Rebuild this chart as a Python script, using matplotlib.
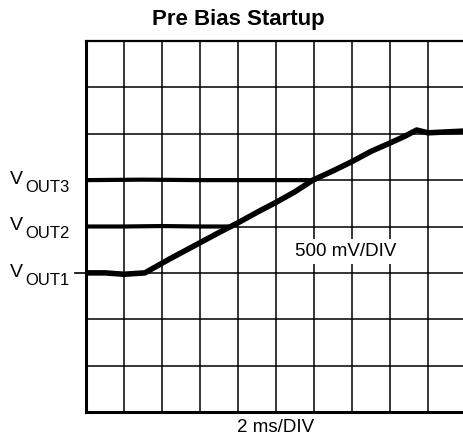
import matplotlib
matplotlib.use("Agg")
import matplotlib.pyplot as plt
import matplotlib.transforms as transforms

plt.rcParams["font.family"] = ["Liberation Sans", "DejaVu Sans"]

# scope traces, in divisions (x: 2 ms/div, y: 500 mV/div)
ramp_t = [0.0, 0.5, 1.0, 1.55, 2.2, 3.0, 3.5, 4.0, 4.6, 5.0, 5.5, 5.97, 6.5, 7.0, 7.5, 8.0, 8.4, 8.7, 9.0, 9.5, 10.0]
ramp_v = [3.0, 3.0, 2.97, 3.0, 3.3, 3.65, 3.87, 4.08, 4.35, 4.52, 4.75, 5.0, 5.2, 5.4, 5.62, 5.8, 5.95, 6.08, 6.02, 6.04, 6.06]

vout2_t = [0.0, 1.0, 2.0, 3.0, 3.85]
vout2_v = [4.0, 4.0, 4.01, 4.0, 4.0]

vout3_t = [0.0, 1.5, 3.0, 4.5, 5.95]
vout3_v = [5.0, 5.01, 5.0, 5.0, 5.0]

levels = [3.0, 4.0, 5.0]
level_subs = ["OUT1", "OUT2", "OUT3"]

fig = plt.figure(figsize=(4.64, 4.47), dpi=100)
ax = fig.add_axes([86 / 464, 35 / 447, 380 / 464, 371 / 447])

ax.set_xlim(0, 10)
ax.set_ylim(0, 8)
ax.set_xticks(range(11))
ax.set_yticks(range(9))
ax.grid(True, color="black", linewidth=1.1)
ax.tick_params(length=0, labelbottom=False, labelleft=False)
for side in ["left", "bottom"]:
    ax.spines[side].set_linewidth(2.2)
ax.spines["top"].set_linewidth(1.6)

ax.plot(vout3_t, vout3_v, color="black", linewidth=3.0, solid_capstyle="butt", zorder=3)
ax.plot(vout2_t, vout2_v, color="black", linewidth=3.0, solid_capstyle="butt", zorder=3)
ax.plot(ramp_t, ramp_v, color="black", linewidth=4.0, solid_capstyle="butt", zorder=3)

# channel labels on the left: big V with a large subscript
trans = transforms.blended_transform_factory(fig.transFigure, ax.transData)
for lv, sub in zip(levels, level_subs):
    ax.text(10 / 464, lv - 4 / 46.4, "V", transform=trans, fontsize=14,
            ha="left", va="baseline")
    ax.text(25 / 464, lv - 12 / 46.4, sub, transform=trans, fontsize=12,
            ha="left", va="baseline")
# reference tick at VOUT1
ax.plot([-11 / 38, 0], [3.0, 3.0], color="black", linewidth=1.2, clip_on=False)

ax.text(6.83, 3.46, "500 mV/DIV", fontsize=13.5, ha="center", va="center",
        bbox=dict(facecolor="white", edgecolor="none", pad=3), zorder=4)

ax.set_xlabel("2 ms/DIV", fontsize=13.5, labelpad=5)
fig.text(238 / 464, 1 - 20 / 447, "Pre Bias Startup", fontsize=16,
         fontweight="bold", ha="center", va="center")

fig.savefig("out.png", dpi=100)
